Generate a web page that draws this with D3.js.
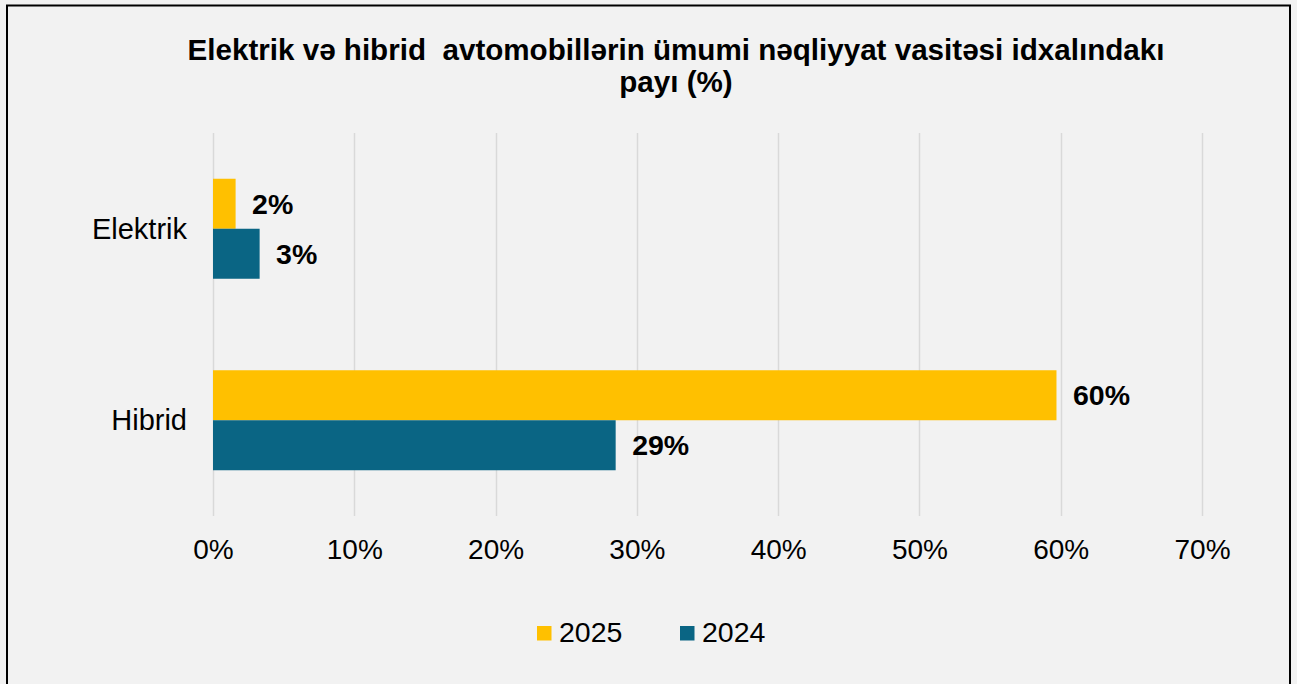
<!DOCTYPE html>
<html>
<head>
<meta charset="utf-8">
<script src="https://cdn.jsdelivr.net/npm/d3@7"></script>
<style>
    body { margin: 0; background: #f2f2f2; }
    text { font-family: "Liberation Sans", Arial, sans-serif; fill: #000; }
    .title { white-space: pre; }
</style>
</head>
<body>
<div class="chart"></div>
<script>
// Data
var categories = ["Elektrik", "Hibrid"];
var years = ["2025", "2024"];
var values2025 = [0.016, 0.597];
var values2024 = [0.033, 0.285];
var barLabels2025 = ["2%", "60%"];
var barLabels2024 = ["3%", "29%"];
var xTicks = [0, 0.1, 0.2, 0.3, 0.4, 0.5, 0.6, 0.7];
var titleLines = ["Elektrik və hibrid  avtomobillərin ümumi nəqliyyat vasitəsi idxalındakı", "payı (%)"];
var colors = { "2025": "#ffc000", "2024": "#0a6584" };

var svgWidth = 1297;
var svgHeight = 684;

var svg = d3.select(".chart")
    .append("svg")
    .attr("width", svgWidth)
    .attr("height", svgHeight);

// Background and frame
svg.append("rect")
    .attr("width", svgWidth)
    .attr("height", svgHeight)
    .attr("fill", "#f2f2f2");

svg.append("rect")
    .attr("x", 7)
    .attr("y", 5.5)
    .attr("width", 1283)
    .attr("height", 700)
    .attr("fill", "none")
    .attr("stroke", "#000")
    .attr("stroke-width", 2);

// Title
svg.append("text")
    .attr("class", "title")
    .attr("text-anchor", "middle")
    .attr("font-weight", "bold")
    .attr("font-size", "29.6px")
    .selectAll("tspan")
    .data(titleLines)
    .enter()
    .append("tspan")
    .attr("x", 676)
    .attr("y", (d, i) => 60 + i * 32)
    .text(d => d);

// Scales
var xScale = d3.scaleLinear()
    .domain([0, 0.7])
    .range([213, 1202]);

var yScale = d3.scaleBand()
    .domain(categories)
    .range([133, 516]);

var ySub = d3.scaleBand()
    .domain(years)
    .range([0, yScale.bandwidth()])
    .paddingOuter(0.915);

// Gridlines
svg.append("g")
    .selectAll("line")
    .data(xTicks)
    .enter()
    .append("line")
    .attr("x1", d => Math.round(xScale(d)) + 0.5)
    .attr("x2", d => Math.round(xScale(d)) + 0.5)
    .attr("y1", 133)
    .attr("y2", 516)
    .attr("stroke", "#d9d9d9")
    .attr("stroke-width", 1.5);

// x axis tick labels
var bottomAxis = d3.axisBottom(xScale)
    .tickValues(xTicks)
    .tickFormat(d3.format(".0%"))
    .tickSize(0)
    .tickPadding(0);

var xAxis = svg.append("g")
    .attr("transform", "translate(0, 539)")
    .call(bottomAxis);
xAxis.select(".domain").remove();
xAxis.selectAll("text")
    .attr("dy", "0.72em")
    .attr("font-size", "28px")
    .attr("font-family", "Liberation Sans, Arial, sans-serif");

// Category labels
svg.append("g")
    .selectAll("text")
    .data(categories)
    .enter()
    .append("text")
    .attr("x", 187)
    .attr("y", d => yScale(d) + yScale.bandwidth() / 2)
    .attr("dy", "0.35em")
    .attr("text-anchor", "end")
    .attr("font-size", "29px")
    .text(d => d);

// Bars
var rows = [];
categories.forEach(function(c, i) {
    rows.push({ cat: c, year: "2025", value: values2025[i], label: barLabels2025[i] });
    rows.push({ cat: c, year: "2024", value: values2024[i], label: barLabels2024[i] });
});

svg.append("g")
    .selectAll("rect")
    .data(rows)
    .enter()
    .append("rect")
    .attr("x", xScale(0))
    .attr("y", d => yScale(d.cat) + ySub(d.year))
    .attr("width", d => xScale(d.value) - xScale(0))
    .attr("height", ySub.bandwidth())
    .attr("fill", d => colors[d.year]);

// Bar labels
svg.append("g")
    .selectAll("text")
    .data(rows)
    .enter()
    .append("text")
    .attr("x", d => xScale(d.value) + 16.5)
    .attr("y", d => yScale(d.cat) + ySub(d.year) + ySub.bandwidth() / 2)
    .attr("dy", "0.35em")
    .attr("font-weight", "bold")
    .attr("font-size", "28.5px")
    .text(d => d.label);

// Legend
var legendX = [537, 680];
var legend = svg.append("g")
    .selectAll("g")
    .data(years)
    .enter()
    .append("g")
    .attr("transform", (d, i) => `translate(${legendX[i]}, 626)`);

legend.append("rect")
    .attr("width", 14.5)
    .attr("height", 14.5)
    .attr("fill", d => colors[d]);

legend.append("text")
    .attr("x", 22)
    .attr("y", 16.3)
    .attr("font-size", "28.5px")
    .text(d => d);
</script>
</body>
</html>
